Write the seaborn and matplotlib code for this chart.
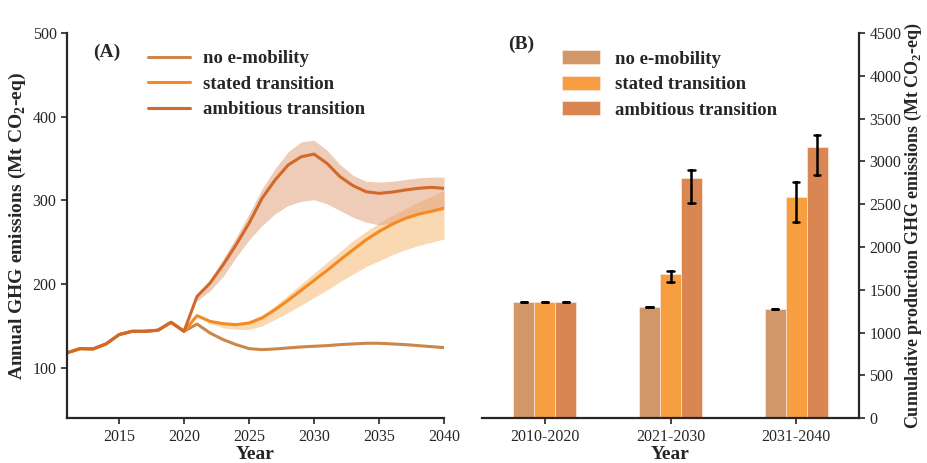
import numpy as np
import pandas as pd
import seaborn as sns
import matplotlib.pyplot as plt

# ---- data ----
scenarios = ["no e-mobility", "stated transition", "ambitious transition"]

years_hist = list(range(2011, 2021))
hist = [118, 123, 122.6, 128.6, 139.7, 143.7, 143.7, 145, 154.4, 143.7]

years_proj = list(range(2021, 2041))
no_emob = [152.4, 141.7, 133.8, 127.8, 123, 121.8, 122.6, 123.8, 125, 125.8,
           126.6, 127.8, 128.6, 129.4, 129.4, 128.6, 127.8, 126.6, 125.4, 124.2]
stated = [162.4, 155.6, 152.8, 151.6, 153.6, 159.6, 169.5, 180.6, 192.6, 204.5,
          216.4, 229, 241, 253, 262.9, 271.6, 278.4, 283.5, 287, 290.7]
stated_lo = [162, 153, 148, 146, 146, 150, 158, 166, 175, 184,
             193, 203, 212, 221, 228, 235, 241, 246, 250, 254]
stated_hi = [162, 157, 154, 153, 156, 163, 174, 187, 200, 213,
             226, 239, 252, 263, 273, 282, 290, 298, 305, 312]
ambitious = [185.4, 201.3, 223, 247, 272.8, 302.6, 324.4, 342.3, 352.2, 355.4,
             344.3, 328.4, 317.7, 310.5, 308.5, 310, 312.5, 314.5, 315.7, 314.5]
ambitious_lo = [180, 192, 209, 232, 253, 270, 284, 294, 299, 301,
                296, 288, 280, 274, 271, 273, 278, 283, 287, 290]
ambitious_hi = [186, 205, 230, 256, 284, 314, 338, 358, 370, 372,
                360, 343, 330, 323, 322, 323, 325, 327, 328, 328]

periods = ["2010-2020", "2021-2030", "2031-2040"]
cum_mid = {"no e-mobility": [1356, 1294, 1270],
           "stated transition": [1356, 1680, 2580],
           "ambitious transition": [1356, 2809, 3168]}
cum_lo = {"no e-mobility": [1356, 1294, 1270],
          "stated transition": [1356, 1585, 2287],
          "ambitious transition": [1356, 2509, 2838]}
cum_hi = {"no e-mobility": [1356, 1294, 1270],
          "stated transition": [1356, 1722, 2762],
          "ambitious transition": [1356, 2899, 3308]}

line_colors = ["#CB8649", "#F58A22", "#D2692B"]
bar_colors = ["#D39669", "#F79E40", "#D98653"]
fill_stated = "#FAD2A4"
fill_ambitious = "#E3A27C"

# ---- long tables ----
rows = []
for name, proj in zip(scenarios, [no_emob, stated, ambitious]):
    for y, v in zip(years_hist + years_proj, hist + proj):
        rows.append((y, v, name))
df_lines = pd.DataFrame(rows, columns=["year", "value", "scenario"])

rows = []
for name in scenarios:
    for i, p in enumerate(periods):
        for v in (cum_lo[name][i], cum_mid[name][i], cum_hi[name][i]):
            rows.append((p, v, name))
df_bars = pd.DataFrame(rows, columns=["period", "value", "scenario"])

sns.set_theme(style="ticks")
plt.rcParams["font.family"] = ["Liberation Serif", "DejaVu Serif"]
plt.rcParams["mathtext.fontset"] = "custom"
plt.rcParams["mathtext.rm"] = "Liberation Serif"
plt.rcParams["mathtext.bf"] = "Liberation Serif:bold"
plt.rcParams["axes.linewidth"] = 1.6
plt.rcParams["xtick.major.width"] = 1.2
plt.rcParams["ytick.major.width"] = 1.2

fig = plt.figure(figsize=(9.27, 4.63), dpi=100)
ax1 = fig.add_axes([0.0723, 0.097, 0.4067, 0.8315])
ax2 = fig.add_axes([0.520, 0.097, 0.4067, 0.8315])

# ---- panel A ----
ax1.fill_between(years_proj, stated_lo, stated_hi, color=fill_stated, alpha=0.85, lw=0)
ax1.fill_between(years_proj, ambitious_lo, ambitious_hi, color=fill_ambitious, alpha=0.55, lw=0)
sns.lineplot(data=df_lines, x="year", y="value", hue="scenario", hue_order=scenarios,
             palette=line_colors, linewidth=2.2, ax=ax1)
ax1.set_xlim(2011, 2040)
ax1.set_ylim(40, 500)
ax1.set_xticks([2015, 2020, 2025, 2030, 2035, 2040])
ax1.set_yticks([100, 200, 300, 400, 500])
ax1.tick_params(labelsize=11.5, length=4)
ax1.set_xlabel("Year", fontsize=14, fontweight="bold", labelpad=1)
ax1.set_ylabel(r"Annual GHG emissions (Mt CO$_\mathbf{2}$-eq)", fontsize=14,
               fontweight="bold", labelpad=3)
sns.despine(ax=ax1)
ax1.legend(loc="upper left", bbox_to_anchor=(0.171, 1.0), frameon=False,
           prop={"weight": "bold", "size": 13.5}, handlelength=2.2,
           handletextpad=0.7, labelspacing=0.45)
ax1.text(0.07, 0.95, "(A)", transform=ax1.transAxes, fontsize=14,
         fontweight="bold", va="center", ha="left")

# ---- panel B ----
sns.barplot(data=df_bars, x="period", y="value", hue="scenario", hue_order=scenarios,
            palette=bar_colors, saturation=1, width=0.5, estimator="median",
            errorbar=lambda v: (v.min(), v.max()), capsize=0.15,
            err_kws={"color": "black", "linewidth": 1.8},
            edgecolor="#FBE9DC", linewidth=0.5, ax=ax2)
ax2.set_xlim(-0.5, 2.5)
ax2.set_ylim(0, 4500)
ax2.set_yticks(range(0, 4501, 500))
ax2.yaxis.tick_right()
ax2.yaxis.set_label_position("right")
ax2.tick_params(labelsize=11.5, length=4)
for s in ["top", "left"]:
    ax2.spines[s].set_visible(False)
ax2.set_xlabel("Year", fontsize=14, fontweight="bold", labelpad=1)
ax2.set_ylabel(r"Cumulative production GHG emissions (Mt CO$_\mathbf{2}$-eq)",
               fontsize=13, fontweight="bold", labelpad=1)
ax2.legend(loc="upper left", bbox_to_anchor=(0.168, 1.0), frameon=False,
           prop={"weight": "bold", "size": 13.5}, handlelength=2.0,
           handleheight=0.8, handletextpad=0.8, labelspacing=0.42)
ax2.text(0.07, 0.97, "(B)", transform=ax2.transAxes, fontsize=14,
         fontweight="bold", va="center", ha="left")

fig.savefig("out.png", dpi=100)
